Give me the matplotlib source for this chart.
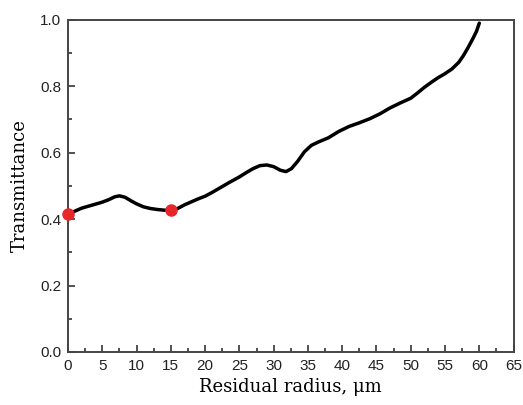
import matplotlib
matplotlib.use("Agg")
import matplotlib.pyplot as plt
from matplotlib.ticker import MultipleLocator

# curve
radius = [0, 1, 2, 3.5, 5, 6, 6.8, 7.5, 8.3, 9.2, 10, 11, 12, 13, 14, 15, 16, 17,
          18, 19, 20, 21, 22, 23.5, 25, 26, 27, 28, 29, 30, 31, 31.8, 32.6, 33.5,
          34.5, 35.5, 36.5, 38, 39.5, 41, 42.5, 44, 45.5, 47, 48.5, 50, 51, 52,
          53, 54, 55, 56, 57, 57.7, 58.4, 59.1, 59.6, 60]
trans = [0.414, 0.424, 0.433, 0.442, 0.451, 0.459, 0.467, 0.470, 0.466, 0.455,
         0.446, 0.437, 0.432, 0.429, 0.427, 0.426, 0.432, 0.443, 0.452, 0.461,
         0.469, 0.480, 0.492, 0.510, 0.527, 0.540, 0.552, 0.561, 0.563, 0.558,
         0.547, 0.543, 0.552, 0.574, 0.603, 0.622, 0.632, 0.645, 0.664, 0.679,
         0.690, 0.702, 0.717, 0.735, 0.750, 0.764, 0.780, 0.797, 0.812, 0.826,
         0.838, 0.852, 0.872, 0.893, 0.918, 0.945, 0.966, 0.990]

# highlighted points
dot_x = [0, 15]
dot_y = [0.414, 0.426]

fig = plt.figure(figsize=(5.23, 4.05), dpi=100)
ax = fig.add_axes([0.130, 0.131, 0.852, 0.820])

ax.plot(radius, trans, color="black", lw=2.5, solid_joinstyle="round",
        solid_capstyle="round", zorder=2)
ax.plot(dot_x, dot_y, "o", color="#e8262a", ms=8, zorder=3, clip_on=False)

ax.set_xlim(0, 65)
ax.set_ylim(0, 1.0)
ax.xaxis.set_major_locator(MultipleLocator(5))
ax.xaxis.set_minor_locator(MultipleLocator(2.5))
ax.yaxis.set_major_locator(MultipleLocator(0.2))
ax.yaxis.set_minor_locator(MultipleLocator(0.1))
ax.yaxis.set_major_formatter(plt.FuncFormatter(lambda v, p: f"{v:.1f}"))

ax.tick_params(which="both", direction="in", top=False, right=False,
               color="#333333", width=1.2)
ax.tick_params(which="major", length=5, labelsize=11, pad=5)
ax.tick_params(which="minor", length=3)
for lab in ax.get_xticklabels() + ax.get_yticklabels():
    lab.set_family("Liberation Sans")
    lab.set_color("#222222")

for s in ax.spines.values():
    s.set_color("#444444")
    s.set_linewidth(1.4)

ax.set_xlabel("Residual radius, μm", family="DejaVu Serif", fontsize=13, labelpad=4)
ax.set_ylabel("Transmittance", family="DejaVu Serif", fontsize=13, labelpad=8)

plt.savefig("out.png", dpi=100)
